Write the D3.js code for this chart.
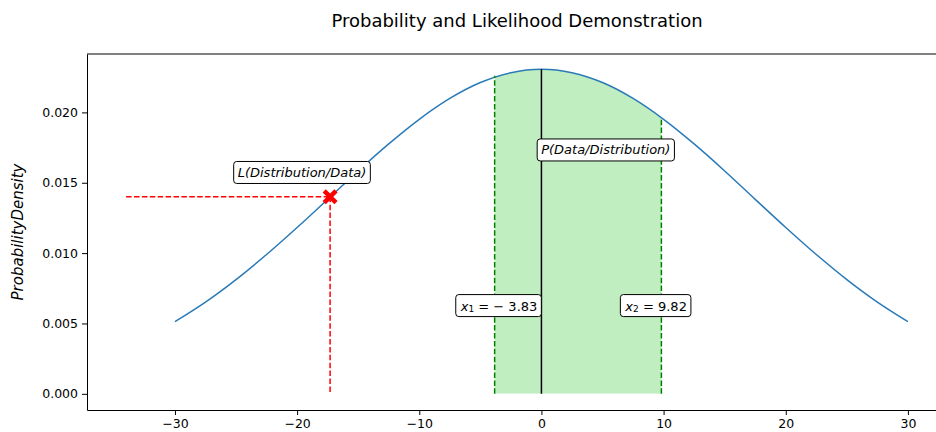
<!DOCTYPE html>
<html>
<head>
<meta charset="utf-8">
<script src="https://cdn.jsdelivr.net/npm/d3@7"></script>
<style>
  body { margin: 0; background: #fff; }
  svg { display: block; font-family: "DejaVu Sans", sans-serif; }
</style>
</head>
<body>
<svg id="chart" width="936" height="432"></svg>
<script>
// Normal density curve, sampled every 2.5 units
const curveX = [-30, -27.5, -25, -22.5, -20, -17.5, -15, -12.5, -10, -7.5, -5, -2.5, 0,
                2.5, 5, 7.5, 10, 12.5, 15, 17.5, 20, 22.5, 25, 27.5, 30];
const curveY = [0.00513, 0.00652, 0.00812, 0.00990, 0.01182, 0.01382, 0.01584, 0.01776,
                0.01951, 0.02099, 0.02212, 0.02282, 0.02306, 0.02282, 0.02212, 0.02099,
                0.01951, 0.01776, 0.01584, 0.01382, 0.01182, 0.00990, 0.00812, 0.00652, 0.00513];

// Mean line
const meanX = 0;
const meanDensity = 0.02306;

// Integration interval
const boundX = [-3.83, 9.82];
const boundDensity = [0.0226, 0.0196];

// Likelihood point and its guide lines
const likelihoodX = -17.3;
const likelihoodY = 0.0140;
const guideStartX = -34;

const xTicks = [-30, -20, -10, 0, 10, 20, 30];
const yTicks = [0, 0.005, 0.010, 0.015, 0.020];

const svg = d3.select("#chart");
const plotLeft = 87, plotRight = 947, plotTop = 54, plotBottom = 410;

const x = d3.scaleLinear().domain([-37.2, 33.2]).range([plotLeft, plotRight]);
const y = d3.scaleLinear().domain([-0.00115, 0.02415]).range([plotBottom, plotTop]);

const pts = curveX.map((v, i) => [v, curveY[i]]);

// Area below the curve, used to clip the shaded interval
const underCurve = d3.area()
  .x(d => x(d[0])).y0(y(0)).y1(d => y(d[1]))
  .curve(d3.curveCatmullRom);

svg.append("defs").append("clipPath").attr("id", "under")
  .append("path").attr("d", underCurve(pts));

svg.append("rect")
  .attr("clip-path", "url(#under)")
  .attr("x", x(boundX[0]))
  .attr("width", x(boundX[1]) - x(boundX[0]))
  .attr("y", plotTop)
  .attr("height", y(0) - plotTop)
  .attr("fill", "#c1eec1");

// Density curve
const line = d3.line().x(d => x(d[0])).y(d => y(d[1])).curve(d3.curveCatmullRom);
svg.append("path")
  .attr("d", line(pts))
  .attr("fill", "none")
  .attr("stroke", "#2a7ab8")
  .attr("stroke-width", 1.5);

// Interval bounds
boundX.forEach((bx, i) => {
  svg.append("line")
    .attr("x1", x(bx)).attr("x2", x(bx))
    .attr("y1", y(0)).attr("y2", y(boundDensity[i]))
    .attr("stroke", "green")
    .attr("stroke-width", 1.5)
    .attr("stroke-dasharray", "5.5,2.4");
});

// Mean line
svg.append("line")
  .attr("x1", x(meanX)).attr("x2", x(meanX))
  .attr("y1", y(0)).attr("y2", y(meanDensity))
  .attr("stroke", "#000")
  .attr("stroke-width", 1.5);

// Likelihood guides
svg.append("line")
  .attr("x1", x(guideStartX)).attr("x2", x(likelihoodX))
  .attr("y1", y(likelihoodY)).attr("y2", y(likelihoodY))
  .attr("stroke", "red").attr("stroke-width", 1.5)
  .attr("stroke-dasharray", "5.5,2.4");
svg.append("line")
  .attr("x1", x(likelihoodX)).attr("x2", x(likelihoodX))
  .attr("y1", y(likelihoodY)).attr("y2", y(0))
  .attr("stroke", "red").attr("stroke-width", 1.5)
  .attr("stroke-dasharray", "5.5,2.4");

// Filled X marker
const ms = 7.5, mw = 3.2;
const xMarker = `M${-ms + mw},${-ms} L0,${-mw} L${ms - mw},${-ms} L${ms},${-ms + mw} L${mw},0 L${ms},${ms - mw} L${ms - mw},${ms} L0,${mw} L${-ms + mw},${ms} L${-ms},${ms - mw} L${-mw},0 L${-ms},${-ms + mw} Z`;
svg.append("path")
  .attr("d", xMarker)
  .attr("transform", `translate(${x(likelihoodX)},${y(likelihoodY)})`)
  .attr("fill", "red");

// Axes
const xAxis = svg.append("g")
  .attr("transform", `translate(0,${plotBottom})`)
  .call(d3.axisBottom(x).tickValues(xTicks).tickSizeInner(5).tickSizeOuter(0).tickPadding(4).tickFormat(d3.format("d")));
const yAxis = svg.append("g")
  .attr("transform", `translate(${plotLeft},0)`)
  .call(d3.axisLeft(y).tickValues(yTicks).tickSizeInner(5).tickSizeOuter(0).tickPadding(4).tickFormat(d3.format(".3f")));
[xAxis, yAxis].forEach(g => {
  g.selectAll("text").attr("font-size", 12.5).attr("font-family", "DejaVu Sans").attr("fill", "#000");
  g.select(".domain").attr("stroke", "#000").attr("stroke-width", 1);
  g.selectAll(".tick line").attr("stroke", "#000");
});
svg.append("line")
  .attr("x1", plotLeft).attr("x2", plotRight).attr("y1", plotTop).attr("y2", plotTop)
  .attr("stroke", "#000").attr("stroke-width", 1);

// Title and axis label
svg.append("text")
  .attr("x", (plotLeft + plotRight) / 2).attr("y", 27)
  .attr("text-anchor", "middle")
  .attr("font-size", 18)
  .text("Probability and Likelihood Demonstration");

svg.append("text")
  .attr("transform", `translate(23,${(plotTop + plotBottom) / 2}) rotate(-90)`)
  .attr("text-anchor", "middle")
  .attr("font-size", 15)
  .attr("font-style", "italic")
  .text("ProbabilityDensity");

// Boxed annotations
function boxedLabel(cx, cy, build) {
  const g = svg.append("g");
  const rect = g.append("rect");
  const t = g.append("text")
    .attr("font-size", 13)
    .attr("text-anchor", "middle")
    .attr("dominant-baseline", "central")
    .attr("x", cx).attr("y", cy);
  build(t);
  const b = t.node().getBBox();
  const pad = 4;
  rect.attr("x", b.x - pad).attr("y", cy - 11)
    .attr("width", b.width + 2 * pad).attr("height", 22)
    .attr("rx", 3).attr("ry", 3)
    .attr("fill", "#fff").attr("stroke", "#000").attr("stroke-width", 1);
}

boxedLabel(x(-19.6), y(0.01573), t => {
  t.attr("font-style", "italic").text("L(Distribution/Data)");
});
boxedLabel(x(5.27), y(0.01733), t => {
  t.attr("font-style", "italic").text("P(Data/Distribution)");
});
boxedLabel(x(-3.47), y(0.00627), t => {
  t.append("tspan").attr("font-style", "italic").text("x");
  t.append("tspan").attr("font-size", 9).attr("dy", 3).text("1");
  t.append("tspan").attr("dy", -3).text(" = \u2212 3.83");
});
boxedLabel(x(9.39), y(0.00627), t => {
  t.append("tspan").attr("font-style", "italic").text("x");
  t.append("tspan").attr("font-size", 9).attr("dy", 3).text("2");
  t.append("tspan").attr("dy", -3).text(" = 9.82");
});
</script>
</body>
</html>
